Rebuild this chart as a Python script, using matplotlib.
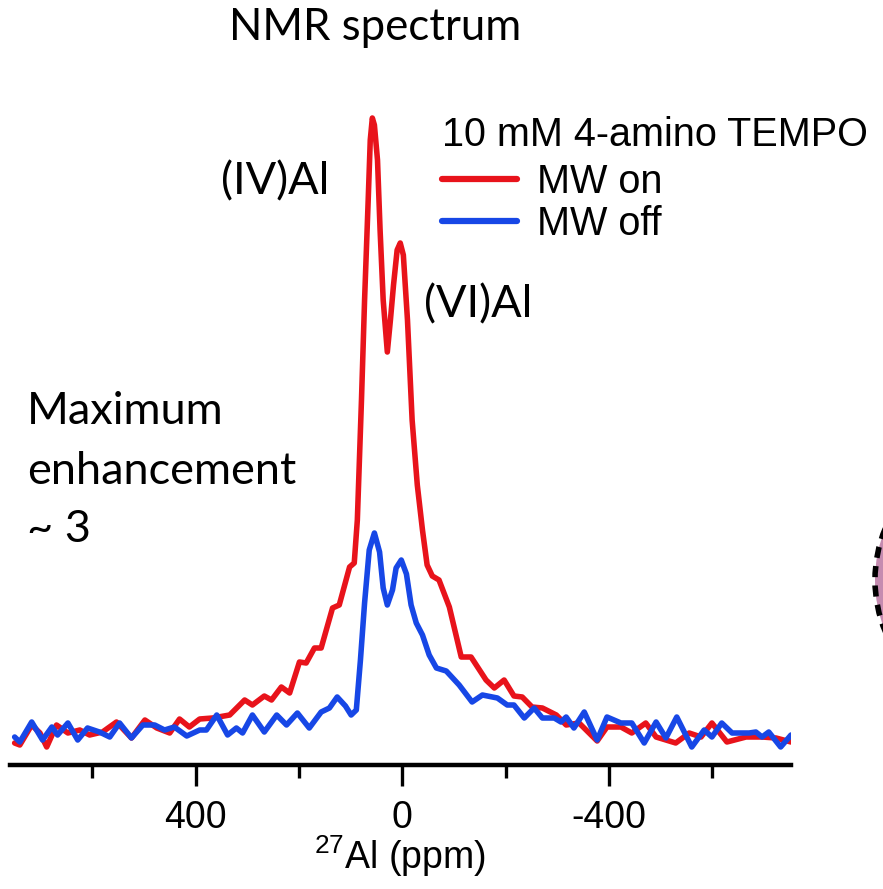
import matplotlib
matplotlib.use("Agg")
import matplotlib.pyplot as plt
from matplotlib.patches import Ellipse

# 27Al chemical shift (ppm) and intensity (a.u.)
ppm_on = [750, 740, 717, 701, 688, 669, 647, 624, 605, 580, 553, 524, 498, 475, 450,
          431, 412, 392, 367, 334, 305, 290, 267, 253, 234, 218, 199, 186, 170, 157,
          135, 122, 102, 93, 87, 79, 73, 66, 62, 58, 54, 48, 43, 37, 29, 23, 17, 10,
          4, -2, -10, -19, -29, -39, -48, -58, -71, -91, -114, -133, -162, -178, -197,
          -216, -232, -251, -271, -298, -317, -342, -377, -396, -423, -444, -471, -491,
          -529, -555, -578, -599, -628, -665, -696, -723, -752]
int_on = [2, 0, 20, 12, -2, 20, 12, 15, 10, 13, 23, 7, 25, 17, 12,
          26, 18, 26, 27, 30, 45, 40, 49, 45, 58, 52, 83, 82, 97, 97,
          137, 140, 178, 182, 225, 345, 445, 545, 605, 627, 620, 585, 515, 445, 393, 425, 460, 495,
          502, 490, 425, 325, 260, 215, 180, 169, 165, 138, 88, 88, 65, 57, 65,
          49, 48, 38, 37, 30, 20, 22, 4, 18, 18, 12, 22, 8,
          2, 12, 8, 22, 3, 8, 8, 7, 3]

ppm_off = [750, 740, 717, 696, 678, 667, 647, 628, 609, 586, 566, 547, 524, 502, 479,
           460, 441, 417, 392, 379, 359, 338, 321, 309, 290, 267, 243, 224, 203, 180,
           157, 141, 126, 110, 99, 89, 81, 73, 64, 54, 44, 37, 29, 19, 12, 2, -8, -17,
           -27, -39, -52, -66, -85, -110, -135, -155, -184, -203, -216, -236, -255, -271,
           -294, -307, -317, -332, -352, -377, -396, -423, -444, -468, -491, -510, -531,
           -560, -584, -599, -618, -638, -671, -684, -696, -709, -732, -752]
int_off = [8, 3, 23, 5, 18, 10, 22, 5, 17, 13, 8, 22, 7, 20, 20,
           15, 18, 9, 15, 15, 30, 10, 17, 12, 30, 13, 30, 20, 32, 17,
           33, 37, 48, 39, 30, 35, 85, 142, 195, 212, 193, 157, 140, 155, 177, 185, 171, 140,
           122, 110, 90, 77, 74, 60, 43, 50, 47, 40, 40, 27, 37, 27,
           27, 23, 28, 17, 33, 5, 28, 22, 22, 2, 23, 7, 28,
           -2, 15, 8, 22, 12, 12, 13, 8, 13, -2, 10]

major_ticks = [400, 0, -400]
minor_ticks = [600, 200, -200, -600]

red = "#e8131b"
blue = "#1747e6"
calibri_like = ["Lato", "DejaVu Sans"]
arial_like = ["Liberation Sans", "DejaVu Sans"]

plt.rcParams["mathtext.fontset"] = "custom"
plt.rcParams["mathtext.rm"] = "Liberation Sans"

W, H = 883, 889
fig = plt.figure(figsize=(W / 100, H / 100), dpi=100)
ax = fig.add_axes([10 / W, 1 - 765 / H, 781 / W, 665 / H])

ax.plot(ppm_on, int_on, color=red, lw=4.0, solid_joinstyle="round",
        solid_capstyle="round", label="MW on", zorder=2)
ax.plot(ppm_off, int_off, color=blue, lw=4.0, solid_joinstyle="round",
        solid_capstyle="round", label="MW off", zorder=3)

ax.set_xlim(759, -752)
ax.set_ylim(-20, 645)

for s in ["top", "right", "left"]:
    ax.spines[s].set_visible(False)
ax.spines["bottom"].set_linewidth(3.2)
ax.set_yticks([])
ax.set_xticks(major_ticks)
ax.set_xticklabels([str(t) for t in major_ticks], family=arial_like, fontsize=27)
ax.set_xticks(minor_ticks, minor=True)
ax.tick_params(axis="x", which="major", direction="out", length=15, width=2.4, pad=10)
ax.tick_params(axis="x", which="minor", direction="out", length=9, width=2.4)
ax.set_xlabel("$^{27}$Al (ppm)", family=arial_like, fontsize=27, labelpad=-2)

fig.text(442 / W, 1 - 135 / H, "10 mM 4-amino TEMPO", family=arial_like,
         fontsize=28.5, ha="left", va="center")
leg = ax.legend(loc="upper left", bbox_to_anchor=(442 / W, 1 - 163 / H),
                bbox_transform=fig.transFigure, frameon=False,
                prop={"family": arial_like, "size": 28.5},
                handlelength=1.9, handletextpad=0.5, labelspacing=0.1,
                borderpad=0, borderaxespad=0)
for h in leg.get_lines():
    h.set_linewidth(4.5)

# annotations
fig.text(375 / W, 1 - 28 / H, "NMR spectrum", family=calibri_like, fontsize=31.5,
         ha="center", va="center")
fig.text(221 / W, 1 - 182 / H, "(IV)Al", family=calibri_like, fontsize=32.5,
         ha="left", va="center")
fig.text(424 / W, 1 - 305 / H, "(VI)Al", family=calibri_like, fontsize=32.5,
         ha="left", va="center")
fig.text(27 / W, 1 - 412 / H, "Maximum", family=calibri_like, fontsize=32.5,
         ha="left", va="center")
fig.text(27 / W, 1 - 472 / H, "enhancement", family=calibri_like, fontsize=32.5,
         ha="left", va="center")
fig.text(27 / W, 1 - 530 / H, "~ 3", family=calibri_like, fontsize=32.5,
         ha="left", va="center")

# edge of a neighbouring panel cut off at the right border
arc = Ellipse((1010 / W, 1 - 580 / H), 270 / W, 270 / H, transform=fig.transFigure,
              facecolor="#c58bb0", edgecolor="black", lw=4, ls=(0, (2, 1.5)))
fig.add_artist(arc)

fig.savefig("out.png", dpi=100)
